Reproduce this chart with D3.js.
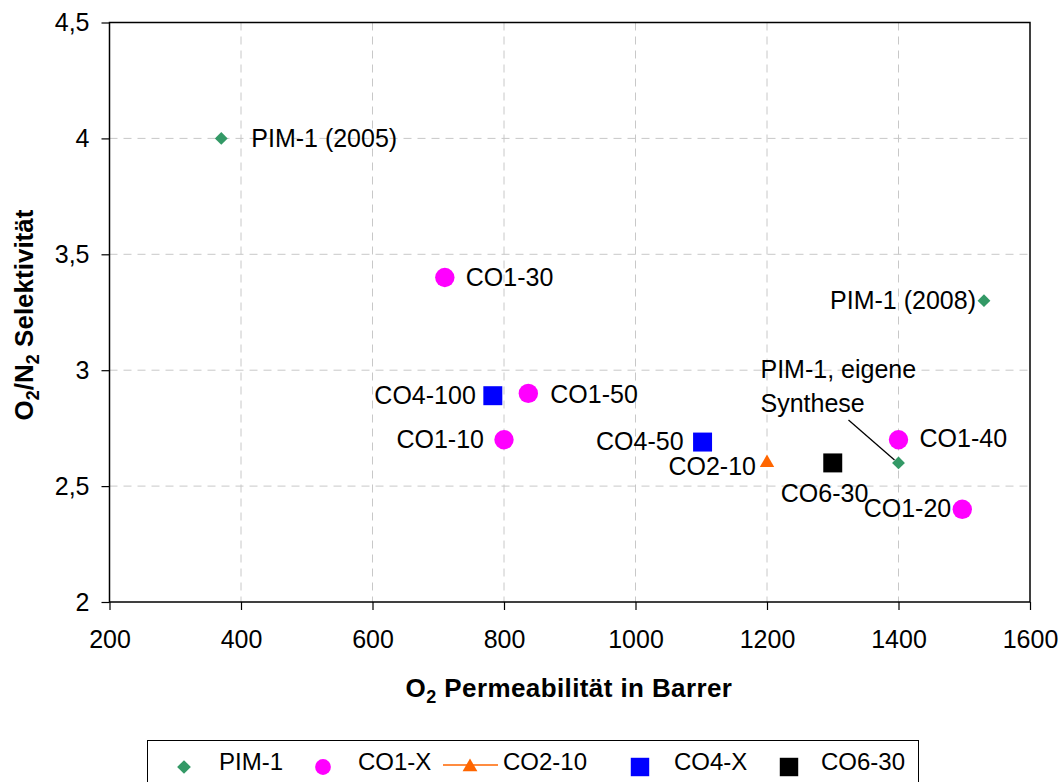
<html>
  <head>
    <meta charset="utf-8">
    <title>O2 Permeabilität vs Selektivität</title>
    <script src="https://cdn.jsdelivr.net/npm/d3@7/dist/d3.min.js" charset="utf-8"></script>
    <style>
      body { margin: 0; background: #fff; }
      text { font-family: "Liberation Sans", Arial, sans-serif; fill: #000; }
    </style>
  </head>
  <body>
    <div id="main"></div>
  <script>
    // data
    var seriesNames = ['PIM-1', 'CO1-X', 'CO2-10', 'CO4-X', 'CO6-30'];
    var pim1 = [[370, 4.0, 'PIM-1 (2005)'], [1530, 3.3, 'PIM-1 (2008)'], [1400, 2.6, 'PIM-1, eigene|Synthese']];
    var co1 = [[710, 3.4, 'CO1-30'], [837, 2.9, 'CO1-50'], [800, 2.7, 'CO1-10'], [1400, 2.7, 'CO1-40'], [1497, 2.4, 'CO1-20']];
    var co2 = [[1200, 2.6, 'CO2-10']];
    var co4 = [[783, 2.89, 'CO4-100'], [1102, 2.69, 'CO4-50']];
    var co6 = [[1300, 2.6, 'CO6-30']];
    var xTicks = [200, 400, 600, 800, 1000, 1200, 1400, 1600];
    var yTicks = [2, 2.5, 3, 3.5, 4, 4.5];

    // label placement (dx, dy from the marker, anchor)
    var labelPos = {
      'PIM-1 (2005)': [30, 0, 'start'],
      'PIM-1 (2008)': [-8, 0, 'end'],
      'PIM-1, eigene|Synthese': [-138, -94, 'start'],
      'CO1-30': [21, 0, 'start'],
      'CO1-50': [22, 1, 'start'],
      'CO1-10': [-20, 0, 'end'],
      'CO1-40': [21, -1, 'start'],
      'CO1-20': [-11, -1, 'end'],
      'CO2-10': [-11, 3, 'end'],
      'CO4-100': [-17, 0, 'end'],
      'CO4-50': [-19, -1, 'end'],
      'CO6-30': [-52, 30, 'start']
    };

    var W = 1063, H = 782;
    var mLeft = 109.5, mRight = 1030, mTop = 22.5, mBottom = 602;
    var fs = '25px';

    var x = d3.scaleLinear().domain([200, 1600]).range([mLeft, mRight]);
    var y = d3.scaleLinear().domain([2, 4.5]).range([mBottom, mTop]);

    var svg = d3.select('#main').append('svg')
      .attr('width', W).attr('height', H);

    // grid
    svg.append('g').selectAll('line').data(xTicks.slice(1, -1)).enter().append('line')
      .attr('x1', d => x(d)).attr('x2', d => x(d)).attr('y1', mTop).attr('y2', mBottom)
      .attr('stroke', '#c8c8c8').attr('stroke-dasharray', '8,6');
    svg.append('g').selectAll('line').data(yTicks.slice(1, -1)).enter().append('line')
      .attr('y1', d => y(d)).attr('y2', d => y(d)).attr('x1', mLeft).attr('x2', mRight)
      .attr('stroke', '#c8c8c8').attr('stroke-dasharray', '8,6');

    // plot frame
    svg.append('rect').attr('x', mLeft).attr('y', mTop)
      .attr('width', mRight - mLeft).attr('height', mBottom - mTop)
      .attr('fill', 'none').attr('stroke', '#000').attr('stroke-width', 1.5);

    // axes
    var xAxis = svg.append('g').attr('transform', 'translate(0,' + mBottom + ')')
      .call(d3.axisBottom(x).tickValues(xTicks).tickSize(8).tickPadding(20).tickFormat(d3.format('d')));
    var yAxis = svg.append('g').attr('transform', 'translate(' + mLeft + ',0)')
      .call(d3.axisLeft(y).tickValues(yTicks).tickSize(8).tickPadding(12)
        .tickFormat(d => String(d).replace('.', ',')));
    [xAxis, yAxis].forEach(function(a) {
      a.select('.domain').remove();
      a.selectAll('line').attr('stroke', '#000').attr('stroke-width', 1.2);
      a.selectAll('text').style('font-size', fs).style('font-family', '"Liberation Sans", Arial, sans-serif');
    });

    // axis titles
    var xt = svg.append('text').attr('x', 569).attr('y', 697).attr('text-anchor', 'middle')
      .style('font-size', '26px').style('font-weight', 'bold').style('letter-spacing', '0.4px');
    xt.append('tspan').text('O');
    xt.append('tspan').text('2').attr('dy', 6).style('font-size', '18px');
    xt.append('tspan').text(' Permeabilität in Barrer').attr('dy', -6);

    var yt = svg.append('text').attr('transform', 'translate(33,315) rotate(-90)')
      .attr('text-anchor', 'middle').style('font-size', '26px').style('font-weight', 'bold');
    yt.append('tspan').text('O');
    yt.append('tspan').text('2').attr('dy', 6).style('font-size', '18px');
    yt.append('tspan').text('/N').attr('dy', -6);
    yt.append('tspan').text('2').attr('dy', 6).style('font-size', '18px');
    yt.append('tspan').text(' Selektivität').attr('dy', -6);

    // marker symbols
    var series = [
      { name: seriesNames[0], data: pim1, color: '#339966', sym: d3.symbolDiamond2, size: 105, lsize: 120 },
      { name: seriesNames[1], data: co1, color: '#ff00ff', sym: d3.symbolCircle, size: 295, lsize: 195 },
      { name: seriesNames[2], data: co2, color: '#ff6600', sym: d3.symbolTriangle, size: 90, lsize: 95 },
      { name: seriesNames[3], data: co4, color: '#0000ff', sym: d3.symbolSquare, size: 360, lsize: 340 },
      { name: seriesNames[4], data: co6, color: '#000000', sym: d3.symbolSquare, size: 360, lsize: 340 }
    ];

    // leader line for annotation
    var ann = pim1[2];
    svg.append('line')
      .attr('x1', x(ann[0]) - 50).attr('y1', y(ann[1]) - 43)
      .attr('x2', x(ann[0]) - 4).attr('y2', y(ann[1]) - 3)
      .attr('stroke', '#000').attr('stroke-width', 1.3);

    series.forEach(function(s) {
      svg.append('g').selectAll('path').data(s.data).enter().append('path')
        .attr('transform', d => 'translate(' + x(d[0]) + ',' + y(d[1]) + ')')
        .attr('d', d3.symbol().type(s.sym).size(s.size))
        .attr('fill', s.color);
      s.data.forEach(function(d) {
        var p = labelPos[d[2]];
        var lines = d[2].split('|');
        var t = svg.append('text')
          .attr('x', x(d[0]) + p[0]).attr('y', y(d[1]) + p[1])
          .attr('text-anchor', p[2])
          .style('font-size', fs);
        lines.forEach(function(l, i) {
          t.append('tspan').attr('x', x(d[0]) + p[0]).attr('dy', i === 0 ? '0.35em' : 34).text(l);
        });
      });
    });

    // legend
    svg.append('rect').attr('x', 147.5).attr('y', 740.5).attr('width', 771).attr('height', 60)
      .attr('fill', '#fff').attr('stroke', '#000').attr('stroke-width', 1);
    var legX = [184, 323, 470, 640, 789];
    var textX = [219, 358, 503, 674, 821];
    var ly = 765;
    series.forEach(function(s, i) {
      if (s.name === 'CO2-10') {
        svg.append('line').attr('x1', legX[i] - 27).attr('x2', legX[i] + 28)
          .attr('y1', ly).attr('y2', ly).attr('stroke', s.color).attr('stroke-width', 1.5);
      }
      svg.append('path').attr('transform', 'translate(' + legX[i] + ',' + (ly + 2) + ')')
        .attr('d', d3.symbol().type(s.sym).size(s.lsize)).attr('fill', s.color);
      svg.append('text').attr('x', textX[i]).attr('y', 770)
        .style('font-size', '24px').text(s.name);
    });
  </script>
  </body>
</html>
